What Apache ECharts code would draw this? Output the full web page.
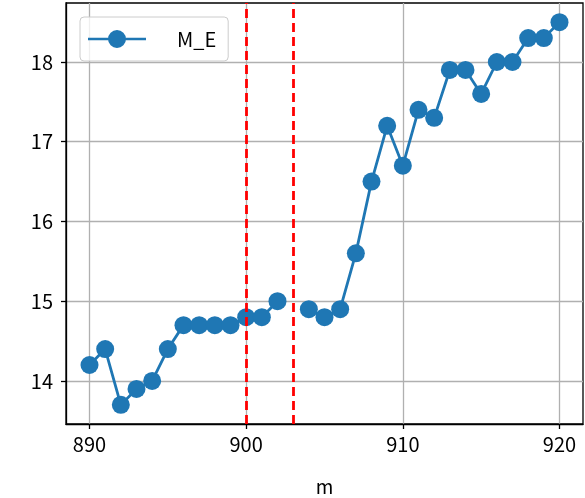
<!DOCTYPE html>
<html>
<head>
<meta charset="utf-8">
<script src="https://cdn.jsdelivr.net/npm/echarts@6/dist/echarts.min.js"></script>
<style>html,body{margin:0;padding:0;background:#fff}#c{width:585px;height:498px}</style>
</head>
<body>
<div id="c"></div>
<script>
const xValues = [890,891,892,893,894,895,896,897,898,899,900,901,902,903,904,905,906,907,908,909,910,911,912,913,914,915,916,917,918,919,920];
const meValues = [14.2,14.4,13.7,13.9,14.0,14.4,14.7,14.7,14.7,14.7,14.8,14.8,15.0,null,14.9,14.8,14.9,15.6,16.5,17.2,16.7,17.4,17.3,17.9,17.9,17.6,18.0,18.0,18.3,18.3,18.5];
const xTicks = [890,900,910,920];
const yTicks = [14,15,16,17,18];
const vLines = [900,903];
const seriesName = 'M_E';

const font = '"Noto Sans CJK JP", "DejaVu Sans", sans-serif';
const legendIcon = 'path://M0,7.7L58,7.7L58,10.3L0,10.3Z M38,9A9,9 0 1 1 20,9A9,9 0 1 1 38,9Z';
const chart = echarts.init(document.getElementById('c'), null, {renderer:'canvas'});
chart.setOption({
  animation:false,
  backgroundColor:'#fff',
  grid:{left:66,right:2,top:3,bottom:74,outerBoundsMode:'none',containLabel:false,show:true,borderColor:'#000',borderWidth:1.3,backgroundColor:'transparent'},
  legend:{
    left:80,top:17,orient:'vertical',
    backgroundColor:'rgba(255,255,255,0.8)',
    borderColor:'#ccc',borderWidth:1,borderRadius:4,
    padding:[12,12,12,8],
    itemWidth:58,itemHeight:18,
    textStyle:{fontFamily:font,fontSize:20,color:'#000',padding:[0,0,0,26]},
    data:[{name:seriesName,icon:legendIcon}]
  },
  xAxis:{
    type:'value',min:888.5,max:921.5,
    name:'m',nameLocation:'middle',nameGap:53,
    nameTextStyle:{fontFamily:font,fontSize:19,color:'#000'},
    axisLine:{show:true,lineStyle:{color:'#000',width:1.3}},
    axisTick:{show:true,inside:false,length:5,lineStyle:{color:'#000',width:1.3},customValues:xTicks},
    axisLabel:{fontFamily:font,fontSize:20,color:'#000',margin:10,customValues:xTicks},
    splitLine:{show:true,lineStyle:{color:'#b0b0b0',width:1.3}}
  },
  yAxis:{
    type:'value',min:13.46,max:18.74,
    axisLine:{show:true,lineStyle:{color:'#000',width:1.3}},
    axisTick:{show:true,inside:false,length:5,lineStyle:{color:'#000',width:1.3},customValues:yTicks},
    axisLabel:{fontFamily:font,fontSize:20,color:'#000',margin:13,customValues:yTicks},
    splitLine:{show:true,lineStyle:{color:'#b0b0b0',width:1.3}}
  },
  series:[{
    name:seriesName,type:'line',
    data:xValues.map((x,i)=>[x,meValues[i]]),
    connectNulls:false,
    symbol:'circle',symbolSize:18,
    itemStyle:{color:'#1f77b4'},
    lineStyle:{color:'#1f77b4',width:2.8},
    markLine:{
      silent:true,symbol:'none',
      label:{show:false},
      lineStyle:{color:'#ff0000',type:[9,5],width:2.8},
      data:vLines.map(v=>({xAxis:v}))
    },
    z:3
  }]
});
</script>
</body>
</html>
